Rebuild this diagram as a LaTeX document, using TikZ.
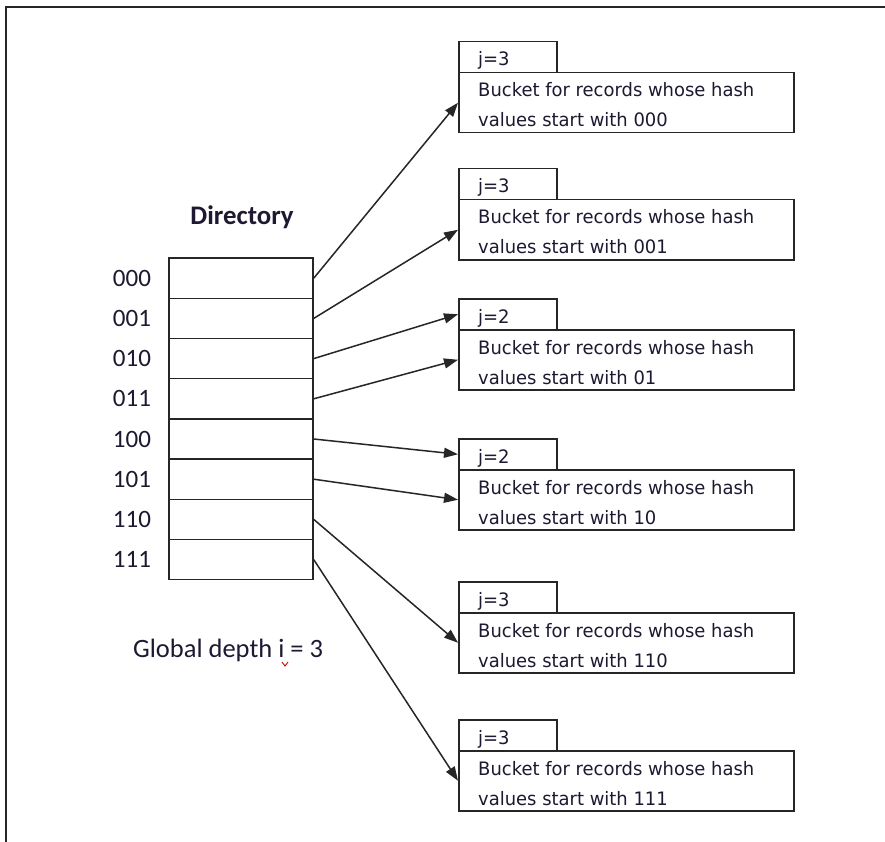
\documentclass[tikz,border=0pt]{standalone}
\usepackage{fontspec}
\setmainfont{Carlito}
\newfontfamily\bucketfont[FakeStretch=0.97]{DejaVu Sans}
\usetikzlibrary{arrows.meta,calc}
\definecolor{ink}{RGB}{30,24,48}
\tikzset{
  frame/.style={line width=2pt,draw=black!85},
  cell/.style={draw=black!85,line width=1.5pt,minimum width=144pt,minimum height=40.2pt,inner sep=0pt},
  tab/.style={draw=black!85,line width=1.5pt,minimum width=98pt,minimum height=31pt,inner sep=0pt,anchor=north west},
  bucketbox/.style={draw=black!85,line width=1.5pt,minimum width=335pt,minimum height=60pt,inner sep=0pt,anchor=north west},
  btext/.style={font=\bucketfont\fontsize{18.5}{20}\selectfont,text=ink,anchor=base west,inner sep=0pt},
  bitlabel/.style={font=\fontsize{25}{28}\selectfont,text=ink,inner sep=0pt},
  pointer/.style={line width=1.5pt,draw=black!85,-{Triangle[length=14pt,width=10pt]}},
}
\begin{document}
\begin{tikzpicture}[x=1pt,y=-1pt]
\useasboundingbox (0,0) rectangle (885,842);
\fill[white] (0,0) rectangle (885,842);
% page frame, cut off on the right and at the bottom
\draw[frame] (6,845) -- (6,7) -- (890,7);

% directory
\node[font=\bfseries\fontsize{26.8}{30}\selectfont,text=ink] (dirtitle) at (242,217) {Directory};
\foreach \bits [count=\k from 0] in {000,001,010,011,100,101,110,111}{
  \node[cell] (d\k) at (241,{278.2+40.2*\k}) {};
  \node[bitlabel] (l\k) at (132,{278.2+40.2*\k}) {\bits};
}
\node[font=\fontsize{26.5}{30}\selectfont,text=ink,anchor=base west,inner sep=0pt] (gd) at (133,657) {Global depth i = 3};
\draw[red!80!black,line width=0.9pt] ($(gd.base west)+(149,5)$) coordinate (sq) -- ++(3,4) -- ++(3,-4);

% buckets: local depth tab + bucket body
\foreach \k/\top/\j/\pre in {1/41/3/000,2/168/3/001,3/298/2/01,4/438/2/10,5/581/3/110,6/719/3/111}{
  \node[tab] (t\k) at (458,\top) {};
  \node[btext] (jt\k) at (478,\top+25) {j=\j};
  \node[bucketbox] (b\k) at (458,\top+31) {};
  \node[btext] (bl\k) at (478,\top+56) {Bucket for records whose hash};
  \node[btext] (bm\k) at (478,\top+86) {values start with \pre};
}

% directory pointers
\draw[pointer] (d0.east) -- (b1.west);
\draw[pointer] (d1.east) -- (b2.west);
\draw[pointer] (d2.east) -- (t3.west);
\draw[pointer] (d3.east) -- (b3.west);
\draw[pointer] (d4.east) -- (t4.west);
\draw[pointer] (d5.east) -- (b4.west);
\draw[pointer] (d6.east) -- (b5.west);
\draw[pointer] (d7.east) -- (b6.west);
\end{tikzpicture}
\end{document}
